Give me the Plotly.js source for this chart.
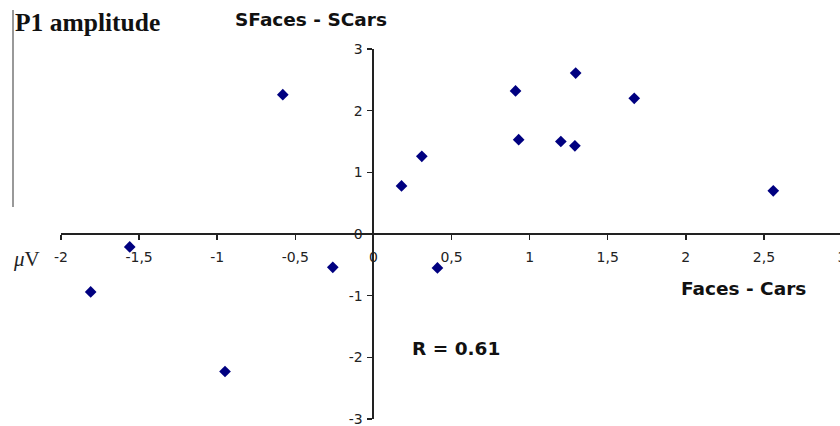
<!DOCTYPE html>
<html>
<head>
<meta charset="utf-8">
<script src="https://cdn.plot.ly/plotly-3.0.1.min.js"></script>
<style>
html,body{margin:0;padding:0;overflow:hidden;background:#fff;width:840px;height:426px;}
#chart{width:850px;height:426px;}
</style>
</head>
<body>
<div id="chart"></div>
<script>
// Faces - Cars (x) vs SFaces - SCars (y), P1 amplitude in µV
const facesMinusCars  = [-1.81, -1.56, -0.95, -0.58, -0.26, 0.18, 0.31, 0.41, 0.91, 1.295, 1.67, 0.93, 1.20, 1.29, 2.56];
const sfacesMinusScars = [-0.94, -0.21, -2.23, 2.26, -0.54, 0.78, 1.26, -0.55, 2.32, 2.61, 2.20, 1.53, 1.50, 1.43, 0.70];

const xTickVals = [-2, -1.5, -1, -0.5, 0, 0.5, 1, 1.5, 2, 2.5, 3];
const xTickText = ["-2", "-1,5", "-1", "-0,5", "0", "0,5", "1", "1,5", "2", "2,5", "3"];
const yTickVals = [-3, -2, -1, 0, 1, 2, 3];
const yTickText = ["-3", "-2", "-1", "0", "1", "2", "3"];

const L = 61, T = 49, PW = 781, PH = 370;
const px = v => (v - L) / PW;
const py = v => (T + PH - v) / PH;

const trace = {
  x: facesMinusCars,
  y: sfacesMinusScars,
  type: 'scatter',
  mode: 'markers',
  marker: {symbol: 'diamond', size: 9, color: '#000080'},
  cliponaxis: false,
  hoverinfo: 'x+y'
};

const tickFont = {family: 'DejaVu Sans, Verdana, sans-serif', size: 14, color: '#222'};
const boldFont = {family: 'DejaVu Sans, Verdana, sans-serif', size: 18.5, color: '#111'};

const layout = {
  width: 850, height: 426,
  margin: {l: L, r: 850 - L - PW, t: T, b: 426 - T - PH, pad: 0},
  paper_bgcolor: '#fff', plot_bgcolor: '#fff',
  separators: ', ',
  showlegend: false,
  xaxis: {
    range: [-2, 3], showgrid: false, zeroline: false,
    anchor: 'free', position: 0.5,
    showline: true, linecolor: '#222', linewidth: 2,
    ticks: 'outside', ticklen: 5, tickwidth: 1.5, tickcolor: '#222',
    tickmode: 'array', tickvals: xTickVals, ticktext: xTickText,
    tickfont: tickFont, ticklabelstandoff: 5, ticklabeloverflow: 'allow'
  },
  yaxis: {
    range: [-3, 3], showgrid: false, zeroline: false,
    anchor: 'free', position: 0.4,
    showline: true, linecolor: '#222', linewidth: 2,
    ticks: 'outside', ticklen: 5, tickwidth: 1.5, tickcolor: '#222',
    tickmode: 'array', tickvals: yTickVals, ticktext: yTickText,
    tickfont: tickFont, ticklabelstandoff: 2, ticklabeloverflow: 'allow'
  },
  shapes: [{
    type: 'line', xref: 'paper', yref: 'paper',
    x0: px(13), x1: px(13), y0: py(10), y1: py(207),
    line: {color: '#777', width: 1.5}
  }],
  annotations: [
    {text: '<b>P1 amplitude</b>', xref: 'paper', yref: 'paper', x: px(13), y: py(22),
     xanchor: 'left', yanchor: 'middle', showarrow: false,
     font: {family: 'Liberation Serif, Times New Roman, serif', size: 25.5, color: '#111'}},
    {text: '<b>SFaces - SCars</b>', xref: 'paper', yref: 'paper', x: px(311), y: py(20),
     xanchor: 'center', yanchor: 'middle', showarrow: false, font: boldFont},
    {text: '<b>Faces - Cars</b>', xref: 'paper', yref: 'paper', x: px(743), y: py(288),
     xanchor: 'center', yanchor: 'middle', showarrow: false, font: boldFont},
    {text: '<b>R = 0.61</b>', xref: 'paper', yref: 'paper', x: px(456), y: py(348),
     xanchor: 'center', yanchor: 'middle', showarrow: false, font: boldFont},
    {text: '<i>μ</i>V', xref: 'paper', yref: 'paper', x: px(26), y: py(259),
     xanchor: 'center', yanchor: 'middle', showarrow: false,
     font: {family: 'Liberation Serif, Times New Roman, serif', size: 21, color: '#222'}}
  ]
};

Plotly.newPlot('chart', [trace], layout, {displayModeBar: false, staticPlot: true});
</script>
</body>
</html>
